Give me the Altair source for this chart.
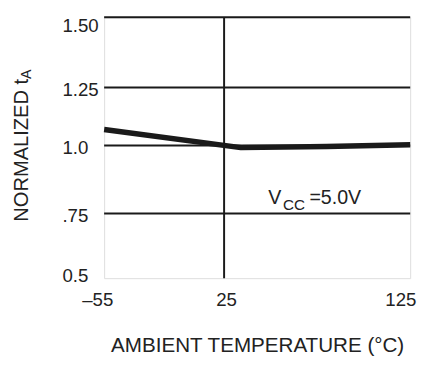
import altair as alt
import pandas as pd

# ---- data ----
temps = [-55, 34, 80, 125]
norm_ta = [1.069, 0.992, 0.996, 1.003]

x_ticks = [-55, 25, 125]
x_tick_labels = ["\u201355", "25", "125"]
y_ticks = [0.5, 0.75, 1.0, 1.25, 1.5]
y_tick_labels = ["0.5", ".75", "1.0", "1.25", "1.50"]
y_grid = [0.75, 1.0, 1.25, 1.5]
x_grid = [25]

x_title = "AMBIENT TEMPERATURE (\u00b0C)"
y_title_main = "NORMALIZED t"
y_title_sub = "A"
note_main, note_sub, note_rest = "V", "CC", "=5.0V"
note_x, note_y = 48.7, 0.786

FONT = "Liberation Sans"
INK = "#222"
W, H = 312, 266

xs = alt.Scale(domain=[-55, 25, 125], range=[0, 122.3, W], nice=False, zero=False)
ys = alt.Scale(domain=[0.5, 0.75, 1.0, 1.25, 1.5], range=[H, 200, 130.7, 71.7, 0], nice=False, zero=False)


def label_expr(vals, labels):
    expr = "''"
    for v, l in zip(reversed(vals), reversed(labels)):
        expr = f"abs(datum.value - {v}) < 1e-6 ? '{l}' : ({expr})"
    return expr


line_df = pd.DataFrame({"t": temps, "n": norm_ta})

base_line = alt.Chart(line_df).mark_line(color="#1a1a1a", strokeWidth=5.5, strokeCap="butt",
                                         strokeJoin="round").encode(
    x=alt.X("t:Q", scale=xs,
            axis=alt.Axis(values=x_ticks, labelExpr=label_expr(x_ticks, x_tick_labels),
                          title=x_title, grid=False, domain=False, ticks=False,
                          labelFont=FONT, labelFontSize=19, labelColor=INK,
                          labelPadding=13, labelFlush=False, labelOverlap=False,
                          labelOffset={"expr": "datum.value == 125 ? -10 : (datum.value == -55 ? -7 : 2)"},
                          titleFont=FONT, titleFontSize=21, titleFontWeight="normal",
                          titleColor=INK, titleBaseline="alphabetic", titleY=75)),
    y=alt.Y("n:Q", scale=ys,
            axis=alt.Axis(values=y_ticks, labelExpr=label_expr(y_ticks, y_tick_labels),
                          title=y_title_main, grid=False, domain=False, ticks=False,
                          labelFont=FONT, labelFontSize=19, labelColor=INK,
                          labelAlign="left", labelPadding=43, labelFlush=False, labelOverlap=False,
                          labelOffset={"expr": "datum.value == 1.5 ? 9 : (datum.value == 0.5 ? -3 : 2)"},
                          titleFont=FONT, titleFontSize=20.5, titleFontWeight="normal",
                          titleColor=INK, titleAngle=270, titleAlign="left",
                          titleBaseline="alphabetic", titleX=-78, titleY=208)),
)

ygrid = alt.Chart(pd.DataFrame({"g": y_grid})).mark_rule(color="#1a1a1a", strokeWidth=2).encode(
    y=alt.Y("g:Q", scale=ys)
)
xgrid = alt.Chart(pd.DataFrame({"g": x_grid})).mark_rule(color="#1a1a1a", strokeWidth=2).encode(
    x=alt.X("g:Q", scale=xs)
)

note_df = pd.DataFrame({"x": [note_x], "y": [note_y]})
note_v = alt.Chart(note_df).mark_text(text=note_main, font=FONT, fontSize=20, color=INK,
                                      align="left", baseline="alphabetic").encode(
    x=alt.X("x:Q", scale=xs), y=alt.Y("y:Q", scale=ys))
note_cc = alt.Chart(note_df).mark_text(text=note_sub, font=FONT, fontSize=15.5, color=INK,
                                       align="left", baseline="alphabetic", dx=15, dy=6).encode(
    x=alt.X("x:Q", scale=xs), y=alt.Y("y:Q", scale=ys))
note_rest_m = alt.Chart(note_df).mark_text(text=note_rest, font=FONT, fontSize=20, color=INK,
                                           align="left", baseline="alphabetic", dx=42).encode(
    x=alt.X("x:Q", scale=xs), y=alt.Y("y:Q", scale=ys))

sub_a = alt.Chart(note_df).mark_text(text=y_title_sub, font=FONT, fontSize=14.5, color=INK,
                                     angle=270, align="left", baseline="alphabetic").encode(
    x=alt.value(-75), y=alt.value(63))

chart = alt.layer(ygrid, xgrid, base_line, note_v, note_cc, note_rest_m, sub_a).properties(
    width=W, height=H,
    autosize=alt.AutoSizeParams(type="none"),
    padding={"left": 98, "top": 6, "right": 10, "bottom": 79},
).configure_view(stroke="#666", strokeWidth=1.5).configure(background="white")

chart.save("out.html", embed_options={"renderer": "svg", "actions": False})
